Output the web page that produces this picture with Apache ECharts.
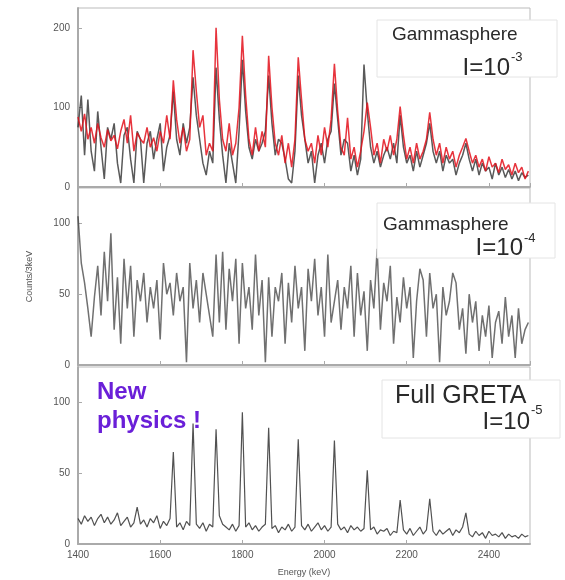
<!DOCTYPE html>
<html>
<head>
    <meta charset="utf-8">
    <title>Gammasphere vs GRETA</title>
    <script type="text/javascript" src="https://cdn.jsdelivr.net/npm/echarts@6/dist/echarts.min.js"></script>
    <style>
        html, body { margin: 0; padding: 0; background: #fff; }
    </style>
</head>
<body>

<div id="demo1" style="width: 565px; height: 580px;"></div>

<script>
    // spectra binned in 8 keV steps from 1400 keV
    var startKeV = 1400;
    var binKeV = 8;
    var energyTicks = [1400, 1600, 1800, 2000, 2200, 2400];

    // top panel: Gammasphere, I=10^-3 (red + black)
    var gsRed = [
        88, 70, 92, 60, 75, 55, 80, 62, 50, 72,
        58, 65, 48, 70, 85, 55, 90, 45, 68, 60,
        55, 75, 50, 62, 45, 70, 55, 90, 60, 134,
        85, 55, 75, 45, 60, 172, 120, 75, 90, 40,
        55, 45, 200, 110, 60, 45, 80, 40, 55, 100,
        190, 115, 60, 40, 75, 45, 70, 50, 165, 100,
        55, 40, 65, 30, 55, 25, 60, 163, 110, 60,
        45, 55, 30, 65, 40, 75, 50, 85, 155, 95,
        50, 40, 87, 35, 50, 25, 45, 70, 106, 75,
        40, 55, 30, 60, 45, 65, 40, 60, 101, 65,
        35, 50, 30, 55, 35, 45, 60, 94, 60, 40,
        55, 30, 50, 35, 45, 25, 40, 50, 61, 45,
        30, 40, 25, 35, 20, 38, 25, 30, 18, 35,
        22, 28, 15, 30, 18, 25, 10, 20
    ];
    var gsBlack = [
        75, 115, 40, 110, 45, 20, 95, 50, 10, 75,
        60, 80, 30, 5, 65, 75, 35, 5, 70, 60,
        5, 55, 70, 35, 60, 80, 20, 50, 65, 120,
        60, 40, 80, 55, 75, 138, 90, 60, 30, 15,
        45, 30, 150, 85, 40, 5, 55, 30, 5, 70,
        160, 95, 50, 35, 60, 45, 55, 70, 140, 80,
        40, 60, 55, 35, 10, 5, 45, 140, 90, 60,
        30, 45, 5, 40, 55, 30, 60, 70, 130, 85,
        40, 60, 55, 20, 40, 15, 35, 154, 95, 50,
        30, 45, 25, 40, 50, 35, 55, 30, 90, 50,
        30, 40, 20, 45, 25, 40, 55, 80, 45, 30,
        45, 20, 40, 30, 35, 15, 30, 40, 55, 35,
        20, 35, 15, 30, 20, 25, 10, 30, 15, 25,
        12, 22, 10, 20, 8, 18, 12, 15
    ];

    // middle panel: Gammasphere, I=10^-4
    var gsWeak = [
        105, 72, 58, 40, 20, 48, 70, 35, 80, 45,
        93, 25, 62, 15, 75, 40, 70, 20, 60, 45,
        65, 30, 55, 40, 60, 18, 72, 50, 58, 35,
        65, 45, 55, 2, 72, 40, 60, 30, 65, 50,
        35, 20, 78, 30, 80, 25, 68, 45, 75, 15,
        72, 40, 55, 25, 78, 35, 60, 2, 62, 20,
        55, 45, 65, 15, 58, 30, 70, 40, 55, 10,
        68, 45, 75, 35, 55, 20, 78, 30, 45, 60,
        25, 55, 40, 70, 20, 65, 35, 52, 10, 60,
        40, 82, 25, 58, 45, 70, 15, 48, 30, 62,
        40, 55, 5, 45, 68, 60, 20, 65, 40, 50,
        2, 55, 35, 45, 65, 58, 25, 40, 8, 50,
        30, 45, 10, 35, 20, 42, 5, 30, 38, 15,
        48, 20, 35, 5, 40, 15, 25, 30
    ];

    // bottom panel: Full GRETA, I=10^-5
    var greta = [
        18, 14, 20, 16, 19, 13, 18, 21, 15, 19,
        14, 17, 22, 13, 16, 19, 12, 15, 26, 14,
        17, 12, 18, 15, 20, 11, 16, 13, 18, 65,
        12, 15, 10, 16, 13, 85, 14, 11, 15, 9,
        14, 12, 81, 20, 14, 12, 10, 14, 9, 13,
        93, 12, 15, 10, 13, 9, 12, 14, 82, 11,
        13, 8, 12, 10, 14, 9, 12, 74, 13, 10,
        14, 9, 12, 15, 10, 13, 9, 12, 73, 14,
        10, 12, 8, 13, 10, 12, 9, 11, 52, 10,
        12, 7, 10, 9, 11, 6, 9, 8, 31, 10,
        7, 11, 6, 9, 12, 7, 10, 32, 9, 6,
        10, 7, 9, 11, 6, 10, 8, 12, 22, 7,
        5, 9, 6, 8, 4, 9, 6, 7, 5, 8,
        4, 7, 5, 6, 4, 7, 5, 6
    ];

    function toPairs(arr) {
        var out = [];
        for (var i = 0; i < arr.length; i++) {
            out.push([startKeV + i * binKeV, arr[i]]);
        }
        return out;
    }

    var fam = 'Liberation Sans, Arial, sans-serif';
    var labelFont = {color: '#555', fontSize: 10, fontFamily: fam};
    var edge = {lineStyle: {color: '#aaa', width: 2}};

    function xAx(idx, showLabels) {
        return {
            type: 'value', gridIndex: idx, min: 1400, max: 2500, interval: 200,
            axisLine: edge,
            axisTick: {inside: true, length: 4, lineStyle: {color: '#aaa'}},
            axisLabel: Object.assign({
                show: showLabels, showMaxLabel: false, margin: 6,
                formatter: function (v) {
                    return energyTicks.indexOf(v) >= 0 ? String(v) : '';
                }
            }, labelFont),
            splitLine: {show: false},
            name: showLabels ? 'Energy (keV)' : '',
            nameLocation: 'middle', nameGap: 24,
            nameTextStyle: {color: '#555', fontSize: 9, fontFamily: fam}
        };
    }

    function yAx(idx, max, interval, name) {
        return {
            type: 'value', gridIndex: idx, min: 0, max: max, interval: interval,
            axisLine: Object.assign({show: true}, edge),
            axisTick: {show: true, inside: true, length: 4, lineStyle: {color: '#aaa'}},
            axisLabel: Object.assign({showMaxLabel: false, margin: 8}, labelFont),
            splitLine: {show: false},
            name: name || '',
            nameLocation: 'middle', nameGap: 44,
            nameTextStyle: {color: '#555', fontSize: 9, fontFamily: fam}
        };
    }

    function line(data, idx, color, width, opacity) {
        return {
            type: 'line', xAxisIndex: idx, yAxisIndex: idx,
            data: toPairs(data), symbol: 'none', sampling: 'none',
            lineStyle: {color: color, width: width, opacity: opacity},
            silent: true
        };
    }

    function txt(x, y, s, size, align, color, weight) {
        return {
            type: 'text', x: x, y: y, z: 100,
            style: {
                text: s, fill: color || '#2a2a2a', textAlign: align || 'left', textVerticalAlign: 'middle',
                font: (weight || 'normal') + ' ' + size + 'px "Liberation Sans", Arial, sans-serif'
            }
        };
    }

    function box(x, y, w, h) {
        return {type: 'rect', z: 90, shape: {x: x, y: y, width: w, height: h},
            style: {fill: '#fff', stroke: '#e4e4e4', lineWidth: 1}};
    }

    var demo1 = echarts.init(document.getElementById("demo1"));
    var option = {
        animation: false,
        backgroundColor: '#fff',
        grid: [
            {left: 78, right: 35, top: 8, height: 179, show: true, borderColor: '#bbb', borderWidth: 1},
            {left: 78, right: 35, top: 188, height: 177, show: true, borderColor: '#bbb', borderWidth: 1},
            {left: 78, right: 35, top: 367, height: 177, show: true, borderColor: '#bbb', borderWidth: 1}
        ],
        xAxis: [xAx(0, false), xAx(1, false), xAx(2, true)],
        yAxis: [yAx(0, 225, 100), yAx(1, 125, 50, 'Counts/3keV'), yAx(2, 125, 50)],
        series: [
            line(gsBlack, 0, '#222', 1.5, 0.75),
            line(gsRed, 0, '#e3101b', 1.5, 0.85),
            line(gsWeak, 1, '#333', 1.5, 0.7),
            line(greta, 2, '#333', 1.2, 0.85)
        ],
        graphic: [
            box(377, 20, 180, 57),
            txt(392, 35, 'Gammasphere', 19),
            txt(510, 68, 'I=10', 24, 'right'),
            txt(511, 57, '-3', 13),
            box(377, 203, 178, 55),
            txt(383, 225, 'Gammasphere', 19),
            txt(523, 248, 'I=10', 24, 'right'),
            txt(524, 238, '-4', 13),
            box(382, 380, 178, 58),
            txt(395, 396, 'Full GRETA', 25),
            txt(530, 422, 'I=10', 24, 'right'),
            txt(531, 410, '-5', 13),
            txt(97, 392, 'New', 24, 'left', '#6a1fd8', 'bold'),
            txt(97, 421, 'physics !', 24, 'left', '#6a1fd8', 'bold')
        ]
    };
    demo1.setOption(option);
</script>

</body>
</html>
